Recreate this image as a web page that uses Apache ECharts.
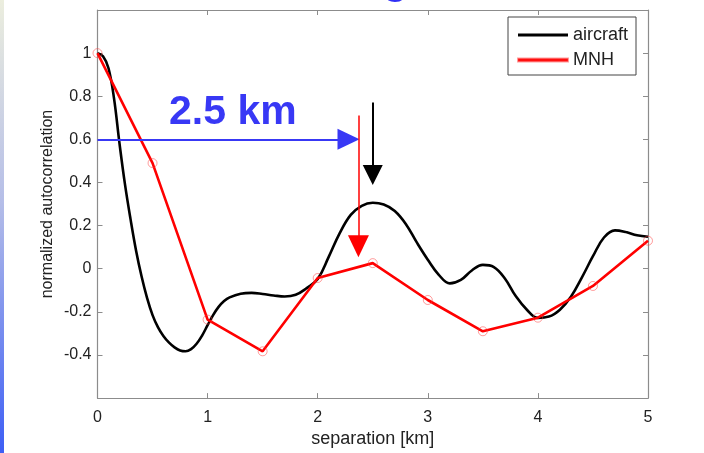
<!DOCTYPE html>
<html>
<head>
<meta charset="utf-8">
<script src="https://cdn.jsdelivr.net/npm/echarts@6/dist/echarts.min.js"></script>
<style>
html,body{margin:0;padding:0;background:#fff;}
#chart{width:704px;height:453px;}
</style>
</head>
<body>
<div id="chart"></div>
<script>
// ---- data ----
const aircraftX = [0,0.05,0.1,0.15,0.2,0.25,0.3,0.35,0.4,0.45,0.5,0.55,0.6,0.65,0.7,0.75,0.8,0.85,0.9,0.95,1.0,1.05,1.1,1.15,1.2,1.3,1.4,1.5,1.6,1.7,1.8,1.9,2.0,2.1,2.2,2.3,2.4,2.5,2.6,2.7,2.8,2.9,3.0,3.1,3.2,3.3,3.4,3.5,3.6,3.7,3.8,3.9,4.0,4.1,4.2,4.3,4.4,4.5,4.6,4.7,4.8,4.9,5.0];
const aircraftY = [1.0,0.985,0.93,0.79,0.58,0.39,0.23,0.085,-0.035,-0.135,-0.215,-0.272,-0.313,-0.343,-0.365,-0.379,-0.383,-0.373,-0.348,-0.31,-0.262,-0.215,-0.177,-0.15,-0.133,-0.116,-0.112,-0.117,-0.124,-0.129,-0.121,-0.09,-0.048,0.055,0.165,0.25,0.292,0.306,0.298,0.268,0.208,0.122,0.042,-0.028,-0.068,-0.052,-0.008,0.018,0.008,-0.045,-0.128,-0.19,-0.228,-0.222,-0.19,-0.13,-0.04,0.058,0.145,0.178,0.17,0.155,0.148];
const mnhX = [0,0.5,1,1.5,2,2.5,3,3.5,4,4.5,5];
const mnhY = [1.0,0.49,-0.236,-0.383,-0.043,0.026,-0.145,-0.29,-0.227,-0.08,0.13];
const xTicks = [0,1,2,3,4,5];
const yTickLabels = ['-0.4','-0.2','0','0.2','0.4','0.6','0.8','1'];
const seriesNames = ['aircraft','MNH'];

const zip = (xs, ys) => xs.map((x, i) => [x, ys[i]]);

const chart = echarts.init(document.getElementById('chart'), null, {renderer:'canvas'});
const axisGray = '#8c8c8c';
const labelColor = '#222';
const font = 'Liberation Sans, Arial, Helvetica, sans-serif';

const common = () => ({
  axisLine:{show:true, onZero:false, lineStyle:{color:axisGray, width:1.2}},
  axisTick:{show:true, inside:true, length:5, lineStyle:{color:axisGray, width:1}},
  splitLine:{show:false}
});

chart.setOption({
  animation:false,
  backgroundColor:'#fff',
  grid:{left:97.5, right:56, top:10, bottom:51},
  legend:{
    orient:'vertical', left:508, top:17,
    padding:[9,8,6,9],
    itemWidth:50, itemHeight:3, itemGap:7,
    backgroundColor:'#fff', borderColor:'#444', borderWidth:1,
    textStyle:{fontFamily:font, fontSize:18, color:labelColor},
    data:[{name:seriesNames[0], icon:'rect', itemStyle:{color:'#000'}},
          {name:seriesNames[1], icon:'rect', itemStyle:{color:'#ff0000'}}]
  },
  xAxis:[
    Object.assign(common(), {type:'value', min:0, max:5, interval:1, position:'bottom',
      name:'separation [km]', nameLocation:'middle', nameGap:31,
      nameTextStyle:{fontFamily:font, fontSize:18, color:labelColor},
      axisLabel:{margin:11, fontFamily:font, fontSize:16, color:labelColor,
        formatter:v => xTicks.includes(v) ? String(v) : ''}}),
    Object.assign(common(), {type:'value', min:0, max:5, interval:1, position:'top', axisLabel:{show:false}})
  ],
  yAxis:[
    Object.assign(common(), {type:'value', min:-0.6, max:1.2, interval:0.2, position:'left',
      name:'normalized autocorrelation', nameLocation:'middle', nameGap:42, nameMoveOverlap:false,
      nameTextStyle:{fontFamily:font, fontSize:16, color:labelColor},
      axisLabel:{margin:6, fontFamily:font, fontSize:16, color:labelColor,
        formatter:v => { const s = String(Math.round(v*10)/10); return yTickLabels.includes(s) ? s : ''; }}}),
    Object.assign(common(), {type:'value', min:-0.6, max:1.2, interval:0.2, position:'right', axisLabel:{show:false}})
  ],
  series:[
    {
      name:seriesNames[0], type:'line', data:zip(aircraftX, aircraftY),
      smooth:0.4, showSymbol:false, symbol:'none',
      lineStyle:{color:'#000', width:2.6}, itemStyle:{color:'#000'},
      markLine:{
        silent:true, symbol:['none','triangle'], symbolSize:[20,20],
        label:{show:false},
        data:[
          [{coord:[2.5,0.771], lineStyle:{color:'#000', width:2, type:'solid'}, itemStyle:{color:'#000'}},
           {coord:[2.5,0.435]}]
        ]
      }
    },
    {
      name:seriesNames[1], type:'line', data:zip(mnhX, mnhY),
      symbol:'circle', symbolSize:9, showSymbol:true,
      lineStyle:{color:'#ff0000', width:2.6},
      itemStyle:{color:'rgba(255,255,255,0)', borderColor:'rgba(255,60,60,0.5)', borderWidth:1},
      markLine:{
        silent:true, symbol:['none','triangle'], symbolSize:[21,22],
        label:{show:false},
        data:[
          [{coord:[0,0.6], lineStyle:{color:'#3838f5', width:2, type:'solid'}, itemStyle:{color:'#3838f5'}},
           {coord:[2.28,0.6]}],
          [{coord:[2.37,0.711], lineStyle:{color:'#ff0000', width:1.5, type:'solid'}, itemStyle:{color:'#ff0000'}},
           {coord:[2.37,0.104]}]
        ]
      }
    }
  ],
  graphic:[
    {type:'rect', left:0, top:0, z:100, shape:{width:4, height:453},
      style:{fill:new echarts.graphic.LinearGradient(0,0,0,1,[
        {offset:0,color:'#eceede'},{offset:0.45,color:'#b4bde8'},{offset:1,color:'#3d5ef5'}])}},
    {type:'text', left:169, top:92, z:100,
      style:{text:'2.5 km', font:'bold 41px Liberation Sans, Arial, sans-serif', fill:'#3838f5'}},
    {type:'text', left:383, top:-38, z:100,
      style:{text:'g', font:'bold 41px Liberation Sans, Arial, sans-serif', fill:'#2f2ff5'}}
  ]
});
</script>
</body>
</html>
